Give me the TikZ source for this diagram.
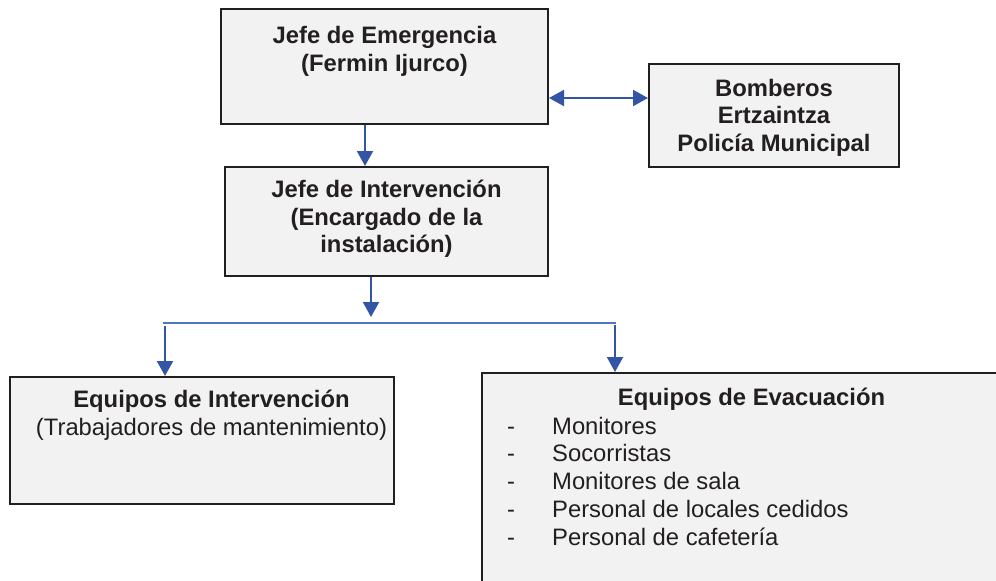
\documentclass[tikz,border=0pt]{standalone}
\usepackage{fontspec}
\setmainfont{Liberation Sans}
\usetikzlibrary{arrows.meta}
\definecolor{boxfill}{HTML}{F2F2F2}
\definecolor{boxline}{HTML}{231F20}
\definecolor{arrblue}{HTML}{3355A5}
\definecolor{lineblue}{HTML}{4A78C6}

\tikzset{
  box/.style={draw=boxline, fill=boxfill, line width=2pt, inner sep=0pt},
  txt/.style={text=boxline, inner sep=0pt, font=\fontsize{23.8}{27.8}\selectfont},
  arr/.style={draw=arrblue, line width=2pt},
  >={Triangle[width=16pt,length=15pt]}
}

\begin{document}
\begin{tikzpicture}[x=1pt,y=-1pt]
\useasboundingbox (0,0) rectangle (996,581);
\clip (0,0) rectangle (996,581);

% boxes
\node [box, minimum width=327pt, minimum height=115pt] (emerg) at (384.5,66.5) {};
\node [box, minimum width=323pt, minimum height=109pt] (interv) at (386.5,221.5) {};
\node [box, minimum width=250pt, minimum height=103pt] (bomb) at (774,115.5) {};
\node [box, minimum width=384pt, minimum height=127pt] (eqint) at (202,440.5) {};
\node [box, minimum width=528pt, minimum height=227pt] (eqevac) at (746,486.5) {};

% texts
\node [txt, anchor=north, align=center, font=\fontsize{23.8}{28.5}\selectfont\bfseries] (emergtxt) at ([yshift=-18pt]emerg.north) {Jefe de Emergencia\\(Fermin Ijurco)};
\node [txt, anchor=north, align=center, font=\fontsize{23.8}{27.5}\selectfont\bfseries] (intervtxt) at ([yshift=-14pt]interv.north) {Jefe de Intervención\\(Encargado de la\\instalación)};
\node [txt, anchor=north, align=center, font=\fontsize{23.8}{27.5}\selectfont\bfseries] (bombtxt) at ([yshift=-16pt]bomb.north) {Bomberos\\Ertzaintza\\Policía Municipal};
\node [txt, anchor=north, align=center] (eqinttxt) at (211.5,390) {\textbf{Equipos de Intervención}\\(Trabajadores de mantenimiento)};
\node [txt, anchor=base, font=\fontsize{23.8}{27.8}\selectfont\bfseries] (eqevactxt) at (751.5,405) {Equipos de Evacuación};
\foreach \t [count=\i] in {Monitores, Socorristas, Monitores de sala, Personal de locales cedidos, Personal de cafetería}
  \node [txt, anchor=base west] (item\i) at (507,{434+27.8*(\i-1)}) {\makebox[45pt][l]{-}\t};

% connectors
\coordinate (c1) at (365,0);
\coordinate (c2) at (0,98);
\coordinate (jl) at (371,317);
\coordinate (splitL) at (163,323);
\coordinate (splitR) at (616,323);
\coordinate (dl) at (165,326);
\coordinate (dr) at (615,325);

\draw [arr, ->] (emerg.south -| c1) -- (interv.north -| c1);
\draw [arr, <->] (emerg.east |- c2) -- (bomb.west |- c2);
\draw [arr, ->] (interv.south -| jl) -- (jl);
\draw [lineblue, line width=1.3pt] (splitL) -- (splitR);
\draw [arr, ->] (dl) -- (eqint.north -| dl);
\draw [arr, ->] (dr) -- (eqevac.north -| dr);

\end{tikzpicture}
\end{document}
